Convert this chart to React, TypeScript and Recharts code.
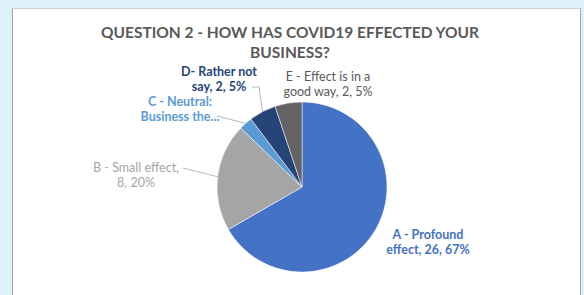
import { PieChart, Pie, Cell } from 'recharts';

// Survey answers, Question 2
const categories = [
  'A - Profound effect',
  'B - Small effect',
  'C - Neutral: Business the same',
  'D- Rather not say',
  'E - Effect is in a good way',
];
const counts = [26, 8, 1, 2, 2];
const percents = ['67%', '20%', '3%', '5%', '5%'];

// label text as Excel wrapped it
const labelLines = [
  ['A - Profound', 'effect, 26, 67%'],
  ['B - Small effect,', '8, 20%'],
  ['C - Neutral:', 'Business the...'],
  ['D- Rather not', 'say, 2, 5%'],
  ['E - Effect is in a', 'good way, 2, 5%'],
];

const SLICE_COLORS = ['#4472C4', '#A5A5A5', '#5B9BD5', '#264478', '#636363'];

// where each label sits, relative to the pie centre
const LABEL_LAYOUT = [
  { dx: 126, dy: 47, color: '#4472C4', bold: true, leader: null },
  { dx: -166, dy: -20, color: '#A5A5A5', bold: false, leader: { x: -119, y: -19, elbow: null } },
  { dx: -122, dy: -86, color: '#5B9BD5', bold: true, leader: { x: -85, y: -71, elbow: null } },
  { dx: -83, dy: -116, color: '#264478', bold: true, leader: { x: -50, y: -100, elbow: { x: -43, y: -100 } } },
  { dx: 26, dy: -111, color: '#595959', bold: false, leader: null },
];

const data = categories.map((name, i) => ({ name, value: counts[i], pct: percents[i] }));

const FONT = 'Lato, "Open Sans", sans-serif';
const RADIAN = Math.PI / 180;

function renderLabel(props: any) {
  const { cx, cy, midAngle, outerRadius, index } = props;
  const cfg = LABEL_LAYOUT[index];
  const lines = labelLines[index];
  const tx = cx + cfg.dx;
  const ty = cy + cfg.dy;
  let leader = null;
  if (cfg.leader) {
    const ex = cx + outerRadius * Math.cos(-midAngle * RADIAN);
    const ey = cy + outerRadius * Math.sin(-midAngle * RADIAN);
    const pts = [[cx + cfg.leader.x, cy + cfg.leader.y]];
    if (cfg.leader.elbow) pts.push([cx + cfg.leader.elbow.x, cy + cfg.leader.elbow.y]);
    pts.push([ex, ey]);
    leader = (
      <polyline
        points={pts.map((p) => p.join(',')).join(' ')}
        fill="none"
        stroke="#a6a6a6"
        strokeWidth={0.8}
      />
    );
  }
  return (
    <g key={`lbl-${index}`}>
      {leader}
      {lines.map((line, j) => (
        <text
          key={j}
          x={tx}
          y={ty + j * 15.5}
          textAnchor="middle"
          dominantBaseline="central"
          fill={cfg.color}
          fontFamily={FONT}
          fontSize={12.5}
          fontWeight={cfg.bold ? 700 : 400}
        >
          {line}
        </text>
      ))}
    </g>
  );
}

export default function App() {
  return (
    <div style={{ position: 'relative', width: 584, height: 295, background: '#def1f8', overflow: 'hidden' }}>
      <style>{'body{margin:0}'}</style>
      <div
        style={{
          position: 'absolute',
          left: 12,
          top: 8,
          width: 567,
          height: 300,
          background: '#ffffff',
          borderLeft: '1.5px solid #a6a6a6',
          borderRight: '1.5px solid #a6a6a6',
          borderTop: '1px solid #d0d0d0',
        }}
      />
      <div
        style={{
          position: 'absolute',
          left: 0,
          width: 580,
          top: 22,
          textAlign: 'center',
          fontFamily: FONT,
          fontWeight: 700,
          fontSize: 15.5,
          lineHeight: '20px',
          color: '#595959',
        }}
      >
        QUESTION 2 - HOW HAS COVID19 EFFECTED YOUR
        <br />
        BUSINESS?
      </div>
      <div style={{ position: 'absolute', left: 0, top: 0 }}>
        <PieChart width={584} height={295}>
          <Pie
            data={data}
            dataKey="value"
            nameKey="name"
            cx={297}
            cy={182}
            outerRadius={85}
            startAngle={90}
            endAngle={-270}
            stroke="#ffffff"
            strokeWidth={0.5}
            label={renderLabel}
            labelLine={false}
            isAnimationActive={false}
          >
            {data.map((entry, i) => (
              <Cell key={`cell-${i}`} fill={SLICE_COLORS[i]} />
            ))}
          </Pie>
        </PieChart>
      </div>
    </div>
  );
}
